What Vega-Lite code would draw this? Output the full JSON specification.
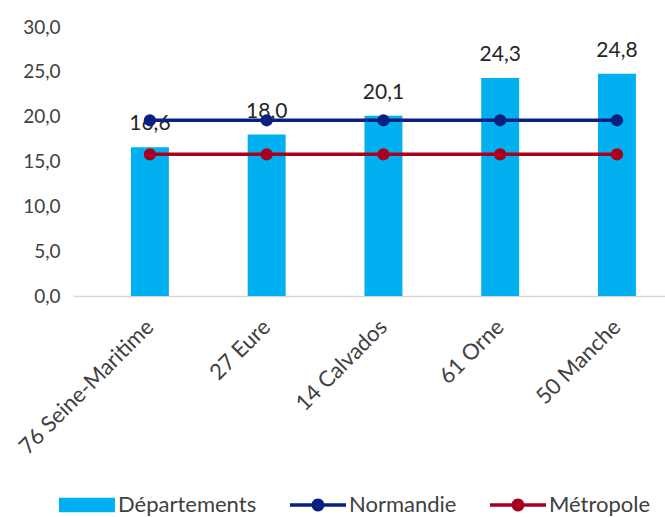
{
  "$schema": "https://vega.github.io/schema/vega-lite/v6.json",
  "width": 592,
  "height": 269,
  "autosize": {"type": "none"},
  "padding": {"left": 73, "top": 27, "right": 0, "bottom": 221},
  "background": "white",
  "config": {
    "view": {"stroke": null},
    "locale": {"number": {"decimal": ",", "thousands": " ", "grouping": [3], "currency": ["", " €"]}},
    "font": "Lato"
  },
  "data": {
    "values": [
      {"dep": "76 Seine-Maritime", "serie": "Départements", "valeur": 16.6},
      {"dep": "27 Eure", "serie": "Départements", "valeur": 18.0},
      {"dep": "14 Calvados", "serie": "Départements", "valeur": 20.1},
      {"dep": "61 Orne", "serie": "Départements", "valeur": 24.3},
      {"dep": "50 Manche", "serie": "Départements", "valeur": 24.8},
      {"dep": "76 Seine-Maritime", "serie": "Normandie", "valeur": 19.6},
      {"dep": "27 Eure", "serie": "Normandie", "valeur": 19.6},
      {"dep": "14 Calvados", "serie": "Normandie", "valeur": 19.6},
      {"dep": "61 Orne", "serie": "Normandie", "valeur": 19.6},
      {"dep": "50 Manche", "serie": "Normandie", "valeur": 19.6},
      {"dep": "76 Seine-Maritime", "serie": "Métropole", "valeur": 15.8},
      {"dep": "27 Eure", "serie": "Métropole", "valeur": 15.8},
      {"dep": "14 Calvados", "serie": "Métropole", "valeur": 15.8},
      {"dep": "61 Orne", "serie": "Métropole", "valeur": 15.8},
      {"dep": "50 Manche", "serie": "Métropole", "valeur": 15.8}
    ]
  },
  "encoding": {
    "x": {
      "field": "dep", "type": "nominal", "sort": null, "title": null,
      "scale": {"paddingInner": 0.675, "paddingOuter": 0.3725, "align": 0.666},
      "axis": {
        "labelAngle": -45, "labelAlign": "right", "labelBaseline": "middle",
        "labelPadding": 27, "ticks": false, "tickSize": 0,
        "domainColor": "#D9D9D9", "domainWidth": 1.5,
        "labelFont": "Lato", "labelFontSize": 22, "labelColor": "#404040", "labelLimit": 300
      }
    },
    "y": {
      "field": "valeur", "type": "quantitative", "title": null,
      "scale": {"domain": [0, 30]},
      "axis": {
        "values": [0, 5, 10, 15, 20, 25, 30], "format": ".1f",
        "domain": false, "ticks": false, "tickSize": 0, "grid": false,
        "labelPadding": 13, "labelFont": "Lato", "labelFontSize": 19, "labelColor": "#404040"
      }
    },
    "color": {
      "field": "serie", "type": "nominal", "title": null,
      "scale": {"domain": ["Départements", "Normandie", "Métropole"], "range": ["#00B0F0", "#0A1F80", "#A8001E"]},
      "legend": {
        "orient": "none", "direction": "horizontal", "legendX": -14, "legendY": 450,
        "symbolSize": 3136, "labelFont": "Lato", "labelFontSize": 22, "labelColor": "#404040",
        "labelOffset": 3, "columnPadding": 33,
        "encode": {
          "symbols": {
            "update": {
              "shape": {"signal": "datum.value === 'Départements' ? 'M-1,-0.26H1V0.26H-1Z' : 'M-1,-0.065H1V0.065H-1ZM0.23,0A0.23,0.23 0 1 1 -0.23,0A0.23,0.23 0 1 1 0.23,0Z'"},
              "fill": {"scale": "color", "field": "value"},
              "stroke": {"value": "transparent"},
              "strokeWidth": {"value": 0},
              "opacity": {"value": 1}
            }
          }
        }
      }
    }
  },
  "layer": [
    {
      "transform": [{"filter": "datum.serie === 'Départements'"}],
      "mark": {"type": "bar"}
    },
    {
      "transform": [{"filter": "datum.serie === 'Départements'"}],
      "mark": {"type": "text", "baseline": "bottom", "dy": -13, "font": "Lato", "fontSize": 21, "color": "#262626"},
      "encoding": {"text": {"field": "valeur", "type": "quantitative", "format": ".1f"}, "color": {"value": "#262626"}}
    },
    {
      "transform": [{"filter": "datum.serie !== 'Départements'"}],
      "mark": {"type": "line", "strokeWidth": 3.5},
      "encoding": {"detail": {"field": "serie"}}
    },
    {
      "transform": [{"filter": "datum.serie !== 'Départements'"}],
      "mark": {"type": "point", "filled": true, "size": 150, "opacity": 1},
      "encoding": {"shape": {"value": "circle"}}
    }
  ]
}
